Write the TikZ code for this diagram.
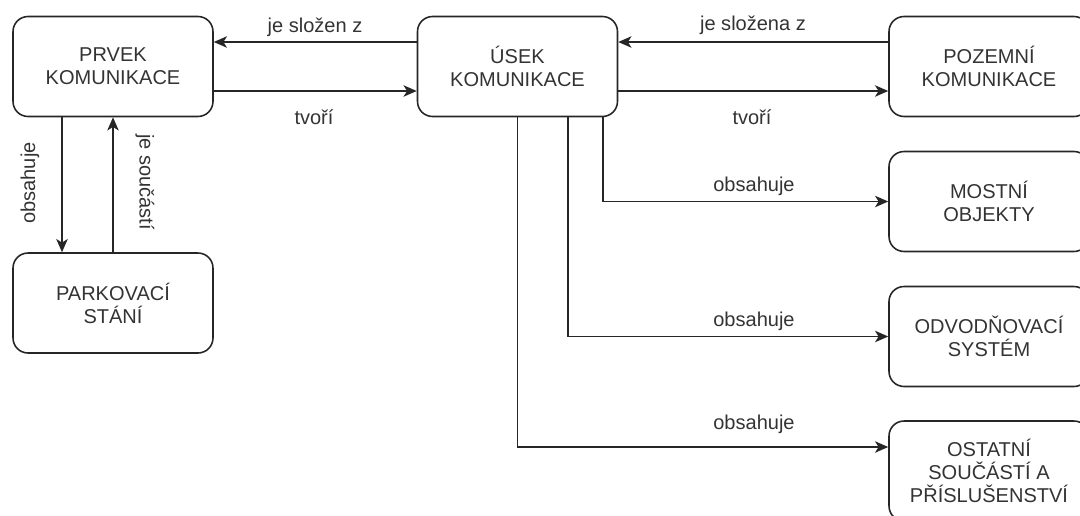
\documentclass[tikz,border=0pt]{standalone}
\usepackage{fontspec}
\setmainfont{Liberation Sans}
\usetikzlibrary{arrows.meta}

\begin{document}
\begin{tikzpicture}[x=0.02cm,y=0.02cm]
		\tikzstyle{every node}+=[inner sep=0pt, font=\fontsize{11.4}{13.1}\selectfont, text=black!80]
		\tikzstyle{entita}=[draw=black!85, line width=0.9pt, rounded corners=0.3cm, minimum width=4cm, minimum height=2cm, align=center]
		\tikzstyle{vztah}=[draw=black!85, line width=0.9pt, -{Stealth[length=7.5pt,width=6.5pt,inset=2pt]}]
		\useasboundingbox (0,0) rectangle (1080,-515);
		\clip (0,0) rectangle (1080,-515);
		\node [entita] (prvek) at (113,-66.5) {PRVEK\\KOMUNIKACE};
		\node [entita] (usek) at (517.5,-66.5) {ÚSEK\\KOMUNIKACE};
		\node [entita] (pozemni) at (989,-66.5) {POZEMNÍ\\KOMUNIKACE};
		\node [entita] (parkovaci) at (113,-303) {PARKOVACÍ\\STÁNÍ};
		\node [entita] (mostni) at (989,-201.5) {MOSTNÍ\\OBJEKTY};
		\node [entita] (odvod) at (989,-336.5) {ODVODŇOVACÍ\\SYSTÉM};
		\node [entita] (ostatni) at (989,-471) {OSTATNÍ\\SOUČÁSTÍ A\\PŘÍSLUŠENSTVÍ};
		\draw [vztah] ([yshift=0.49cm]usek.west) -- ([yshift=0.49cm]prvek.east);
		\node (slozen) at (315,-27) {je složen z};
		\draw [vztah] ([yshift=-0.49cm]prvek.east) -- ([yshift=-0.49cm]usek.west);
		\node (tvori1) at (314,-117) {tvoří};
		\draw [vztah] ([yshift=0.49cm]pozemni.west) -- ([yshift=0.49cm]usek.east);
		\node (slozena) at (753,-25) {je složena z};
		\draw [vztah] ([yshift=-0.49cm]usek.east) -- ([yshift=-0.49cm]pozemni.west);
		\node (tvori2) at (752,-117) {tvoří};
		\draw [vztah] ([xshift=-1.02cm]prvek.south) -- ([xshift=-1.02cm]parkovaci.north);
		\node [rotate=90] (obsahuje0) at (30,-183) {obsahuje};
		\draw [vztah] (parkovaci.north) -- (prvek.south);
		\node [rotate=-90] (soucasti) at (145,-182) {je součástí};
		\draw [vztah] ([xshift=1.71cm]usek.south) |- (mostni.west);
		\node (obsahuje1) at (754,-186) {obsahuje};
		\draw [vztah] ([xshift=1.01cm]usek.south) |- (odvod.west);
		\node (obsahuje2) at (754,-321) {obsahuje};
		\draw [vztah] (usek.south) |- ([yshift=0.48cm]ostatni.west);
		\node (obsahuje3) at (754,-424) {obsahuje};
	\end{tikzpicture}
\end{document}
